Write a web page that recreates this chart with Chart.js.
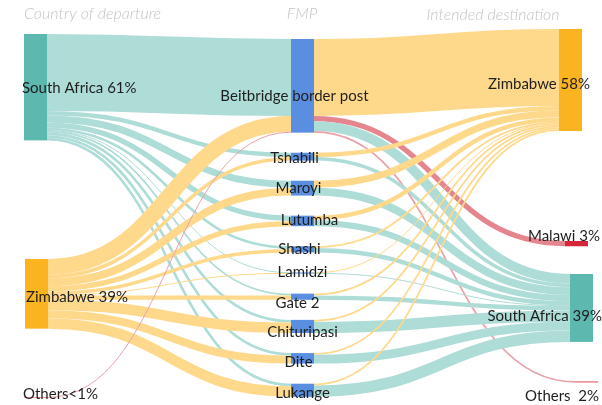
<!DOCTYPE html>
<html><head><meta charset="utf-8">
<script src="https://cdn.jsdelivr.net/npm/chart.js@4.4.1/dist/chart.umd.min.js"></script>
<style>html,body{margin:0;padding:0;background:#fff}</style>
</head><body>
<canvas id="c" width="602" height="405"></canvas>
<script>
// ---------------- DATA ----------------
const columnTitles = ['Country of departure', 'FMP', 'Intended destination'];
const departureNodes = ['South Africa', 'Zimbabwe', 'Others'];
const departureLabels = ['South Africa 61%', 'Zimbabwe 39%', 'Others<1%'];
const fmpNodes = ['Beitbridge border post', 'Tshabili', 'Maroyi', 'Lutumba', 'Shashi', 'Lamidzi', 'Gate 2', 'Chituripasi', 'Dite', 'Lukange'];
const destinationNodes = ['Zimbabwe', 'Malawi', 'South Africa', 'Others'];
const destinationLabels = ['Zimbabwe 58%', 'Malawi 3%', 'South Africa 39%', 'Others  2%'];
// share (%) of travellers from each country of departure through each FMP
const fromSouthAfrica = [44, 2.5, 4, 3, 1.5, 0.3, 1, 1.5, 1.5, 1.5];
const fromZimbabwe    = [9, 2, 4.5, 3, 2, 0.3, 2.5, 6, 4.5, 6];
const fromOthers      = [0.5, 0, 0, 0, 0, 0, 0, 0, 0, 0];
// share (%) of travellers from each FMP to each intended destination
const toZimbabwe      = [44, 2.5, 4, 2.5, 1, 0.3, 1, 1, 1, 1];
const toMalawi        = [3, 0, 0, 0, 0, 0, 0, 0, 0, 0];
const toSouthAfrica   = [5.5, 2, 4.5, 3.5, 2.5, 0.3, 2.5, 6.5, 5, 6.5];
const toOthers        = [1, 0, 0, 0, 0, 0, 0, 0, 0, 0];

// ---------------- LAYOUT / STYLE ----------------
const K = 1.75; // layout units per percent
const layout = {
  left:  { x: [24, 25, 24], w: 23, tops: [34, 259, 397] },
  mid:   { x: 291, w: 23, top: 39, gap: 20.1 },
  right: { x: [559, 565, 570, 575], w: 23, tops: [29, 241, 274, 381] }
};
const colors = {
  teal: '#5db8b0', tealLink: '#aedcd7',
  orange: '#fbb420', orangeLink: '#fed98c',
  blue: '#5a8ee1',
  red: '#d7263c', redLink: '#e5868f',
  pink: '#e996a0', pinkLink: '#eaa2aa'
};
const leftStyle = [
  { node: colors.teal, link: colors.tealLink, lx: 22, dy: 1, align: 'left' },
  { node: colors.orange, link: colors.orangeLink, lx: 26, dy: 3, align: 'left' },
  { node: colors.pink, link: colors.pinkLink, lx: 23, dy: -3, align: 'left' }
];
const rightStyle = [
  { node: colors.orange, link: colors.orangeLink, lx: 590, dy: 4, align: 'right' },
  { node: colors.red, link: colors.redLink, lx: 600, dy: -7, align: 'right' },
  { node: colors.teal, link: colors.tealLink, lx: 602, dy: 8, align: 'right' },
  { node: colors.pink, link: colors.pinkLink, lx: 599, dy: 14, align: 'right' }
];
const midLabelDx = [-8, -8, -4, 7, -3, 0, -5, 0, -4, 0];
const midLabelDy = [10, 1, 0, -1, 0, -1, 6, 6, 4, 3];

// ---------------- BUILD SANKEY ----------------
const sum = a => a.reduce((s, v) => s + v, 0);
const fromArrays = [fromSouthAfrica, fromZimbabwe, fromOthers];
const toArrays = [toZimbabwe, toMalawi, toSouthAfrica, toOthers];
const nodes = [];
departureNodes.forEach((n, i) => {
  nodes.push({ col: 0, idx: i, name: n, label: departureLabels[i], value: sum(fromArrays[i]),
    x: layout.left.x[i], w: layout.left.w, top: layout.left.tops[i], color: leftStyle[i].node,
    linkColor: leftStyle[i].link, style: leftStyle[i], out: [], inn: [] });
});
let midTop = layout.mid.top;
fmpNodes.forEach((n, i) => {
  const vin = fromArrays.reduce((s, a) => s + a[i], 0);
  const vout = toArrays.reduce((s, a) => s + a[i], 0);
  const v = Math.max(vin, vout);
  nodes.push({ col: 1, idx: i, name: n, label: n, value: v, x: layout.mid.x, w: layout.mid.w,
    top: midTop, color: colors.blue, out: [], inn: [] });
  midTop += v * K + layout.mid.gap;
});
destinationNodes.forEach((n, i) => {
  nodes.push({ col: 2, idx: i, name: n, label: destinationLabels[i], value: sum(toArrays[i]),
    x: layout.right.x[i], w: layout.right.w, top: layout.right.tops[i], color: rightStyle[i].node,
    linkColor: rightStyle[i].link, style: rightStyle[i], out: [], inn: [] });
});
const leftN = nodes.filter(n => n.col === 0), midN = nodes.filter(n => n.col === 1), rightN = nodes.filter(n => n.col === 2);
const links = [];
leftN.forEach((s, si) => midN.forEach((t, ti) => {
  const v = fromArrays[si][ti];
  if (v > 0) links.push({ s, t, v, color: s.linkColor });
}));
midN.forEach((s, si) => rightN.forEach((t, ti) => {
  const v = toArrays[ti][si];
  if (v > 0) links.push({ s, t, v, color: t.linkColor });
}));
links.forEach(l => { l.s.out.push(l); l.t.inn.push(l); });
nodes.forEach(n => {
  let o = n.top;
  n.out.slice().sort((a, b) => a.t.top - b.t.top).forEach(l => { l.sy = o; o += l.v * K; });
  let p = n.top;
  n.inn.slice().sort((a, b) => a.s.top - b.s.top).forEach(l => { l.ty = p; p += l.v * K; });
});

// ---------------- DRAW PLUGIN ----------------
const sankeyPlugin = {
  id: 'sankey',
  afterDatasetsDraw(chart) {
    const { ctx, scales: { x, y } } = chart;
    const px = v => x.getPixelForValue(v), py = v => y.getPixelForValue(v);
    ctx.save();
    // links
    links.forEach(l => {
      const x0 = px(l.s.x + l.s.w), x1 = px(l.t.x);
      const h = Math.abs(py(l.v * K) - py(0));
      const y0 = py(l.sy + l.v * K / 2), y1 = py(l.ty + l.v * K / 2);
      const xm = (x0 + x1) / 2;
      ctx.beginPath();
      ctx.moveTo(x0, y0);
      ctx.bezierCurveTo(xm, y0, xm, y1, x1, y1);
      ctx.strokeStyle = l.color;
      ctx.lineWidth = Math.max(1, h);
      ctx.lineCap = 'butt';
      ctx.stroke();
    });
    // nodes
    nodes.forEach(n => {
      const x0 = px(n.x), x1 = px(n.x + n.w);
      const y0 = py(n.top), y1 = py(n.top + n.value * K);
      ctx.fillStyle = n.color;
      ctx.fillRect(x0, y0, x1 - x0, Math.max(1, y1 - y0));
    });
    // labels
    ctx.fillStyle = '#1e1e1e';
    ctx.font = '15px Lato, "Open Sans", sans-serif';
    ctx.textBaseline = 'middle';
    nodes.forEach(n => {
      const cy = n.top + n.value * K / 2;
      if (n.col === 1) {
        ctx.textAlign = 'center';
        ctx.fillText(n.label, px(n.x + n.w / 2 + midLabelDx[n.idx]), py(cy + midLabelDy[n.idx]));
      } else {
        ctx.textAlign = n.style.align;
        ctx.fillText(n.label, px(n.style.lx), py(cy + n.style.dy));
      }
    });
    // column titles
    ctx.fillStyle = '#c4c4c4';
    ctx.font = 'italic 300 16px Lato, "Open Sans", sans-serif';
    ctx.textAlign = 'left';
    ctx.fillText(columnTitles[0], px(24), py(14));
    ctx.textAlign = 'center';
    ctx.fillText(columnTitles[1], px(302), py(14));
    ctx.fillText(columnTitles[2], px(493), py(15));
    ctx.restore();
  }
};

new Chart(document.getElementById('c'), {
  type: 'scatter',
  data: { datasets: [{ data: [] }] },
  options: {
    responsive: false,
    animation: false,
    layout: { padding: 0 },
    plugins: { legend: { display: false }, tooltip: { enabled: false } },
    scales: {
      x: { type: 'linear', min: 0, max: 602, display: false },
      y: { type: 'linear', min: 0, max: 405, reverse: true, display: false }
    }
  },
  plugins: [sankeyPlugin]
});
</script>
</body></html>
